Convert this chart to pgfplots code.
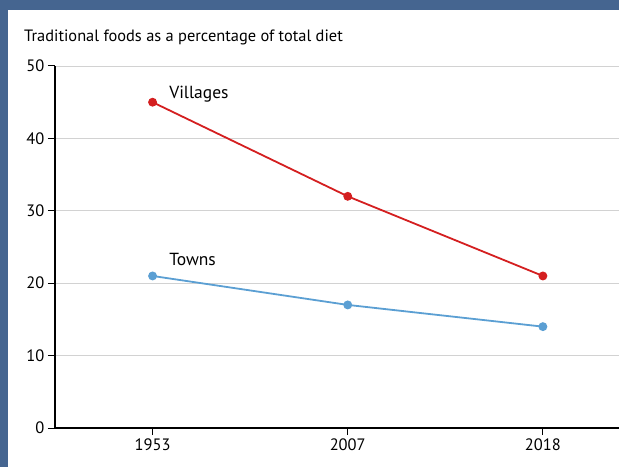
\documentclass[border=0pt]{standalone}
\usepackage{pgfplots}
\pgfplotsset{compat=1.18}
\usepackage{fontspec}
\setmainfont{PT Sans}
\definecolor{frame}{HTML}{456590}
\definecolor{villred}{HTML}{D41F20}
\definecolor{townblue}{HTML}{5B9FD3}
\begin{document}
\begin{tikzpicture}
\useasboundingbox (0,0) rectangle (619pt,467pt);
\fill[frame] (0,456.5pt) rectangle (619pt,467pt);
\fill[frame] (0,0) rectangle (8.3pt,467pt);
\node[anchor=base west,inner sep=0pt,font=\fontsize{16.4}{20}\selectfont] at (24pt,425pt)
  {Traditional foods as a percentage of total diet};
\begin{axis}[
  at={(55pt,39pt)}, anchor=south west,
  scale only axis, width=564pt, height=362pt,
  xmin=-0.5, xmax=2.39, ymin=0, ymax=50,
  axis x line=bottom, axis y line=left,
  axis line style={-, black, line width=1.5pt},
  xtick={0,1,2}, xticklabels={1953,2007,2018},
  ytick={0,10,20,30,40,50},
  tick align=outside, major tick length=7pt,
  tick style={black, line width=1pt},
  ymajorgrids, grid style={gray!35, line width=0.8pt},
  /pgf/number format/assume math mode=true,
  ticklabel style={font=\fontsize{16.5}{19}\selectfont},
  clip=false,
]
\addplot[villred, line width=1.8pt, mark=*, mark size=3.5pt] coordinates {
  (0,45) (1,32) (2,21)
};
\addplot[townblue, line width=1.8pt, mark=*, mark size=3.5pt] coordinates {
  (0,21) (1,17) (2,14)
};
\node[anchor=base west, inner sep=0pt, font=\fontsize{17.5}{20}\selectfont] at (axis cs:0.085,45.5) {Villages};
\node[anchor=base west, inner sep=0pt, font=\fontsize{17.5}{20}\selectfont] at (axis cs:0.085,22.4) {Towns};
\end{axis}
\end{tikzpicture}
\end{document}
